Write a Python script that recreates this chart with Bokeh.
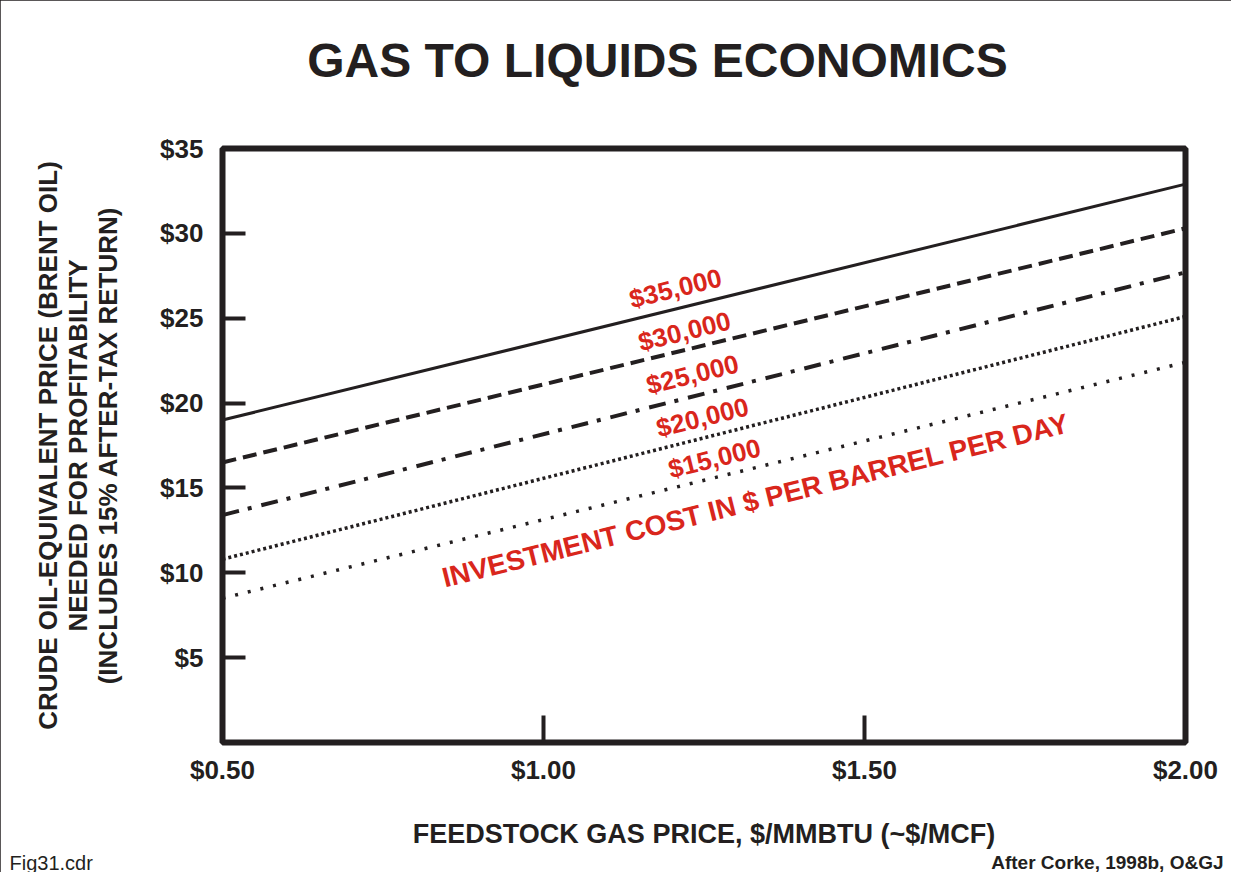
from bokeh.plotting import figure
from bokeh.models import Range1d, FixedTicker, Label
from bokeh.embed import file_html
from bokeh.resources import INLINE

# ---------------- data ----------------
gas_price = [0.5, 2.0]
cost_35000 = [19.0, 32.9]
cost_30000 = [16.5, 30.3]
cost_25000 = [13.4, 27.7]
cost_20000 = [10.8, 25.1]
cost_15000 = [8.5, 22.4]
series_labels = ["$35,000", "$30,000", "$25,000", "$20,000", "$15,000"]

x_ticks = [0.5, 1.0, 1.5, 2.0]
x_tick_labels = ["$0.50", "$1.00", "$1.50", "$2.00"]
y_ticks = [5, 10, 15, 20, 25, 30, 35]
y_tick_labels = ["$5", "$10", "$15", "$20", "$25", "$30", "$35"]

title_text = "GAS TO LIQUIDS ECONOMICS"
x_title = "FEEDSTOCK GAS PRICE, $/MMBTU (~$/MCF)"
y_title_lines = ["CRUDE OIL-EQUIVALENT PRICE (BRENT OIL)",
                 "NEEDED FOR PROFITABILITY",
                 "(INCLUDES 15% AFTER-TAX RETURN)"]
note_text = "INVESTMENT COST IN $ PER BARREL PER DAY"
file_text = "Fig31.cdr"
source_text = "After Corke, 1998b, O&GJ"

# ---------------- layout (canvas pixels) ----------------
W, H = 1231, 872
cl, cr, ct, cb = 222, 1185, 148, 742   # plot frame edges on the canvas

X0, X1 = 0.5, 2.0
Y0, Y1 = 0, 35


def dx(px):
    return X0 + (px - cl) / (cr - cl) * (X1 - X0)


def dy(py):
    return Y0 + (cb - py) / (cb - ct) * (Y1 - Y0)


BLACK = "#231f20"
RED = "#d9261c"
FONT = "Liberation Sans"

p = figure(width=W, height=H, output_backend="svg", toolbar_location=None,
           x_range=Range1d(X0, X1), y_range=Range1d(Y0, Y1),
           min_border_left=cl, min_border_right=W - cr,
           min_border_top=ct, min_border_bottom=H - cb,
           styles={"outline": f"3px solid {BLACK}", "outline-offset": "-3px"})
p.background_fill_color = "white"
p.border_fill_color = "white"
p.grid.visible = False
p.outline_line_color = BLACK
p.outline_line_width = 6
p.outline_line_alpha = 1
p.title.visible = False

# axes
p.xaxis.ticker = FixedTicker(ticks=x_ticks)
p.xaxis.major_label_overrides = {t: l for t, l in zip(x_ticks, x_tick_labels)}
p.yaxis.ticker = FixedTicker(ticks=y_ticks)
p.yaxis.major_label_overrides = {t: l for t, l in zip(y_ticks, y_tick_labels)}
for ax, tin in ((p.xaxis, 27), (p.yaxis, 23)):
    ax.axis_line_color = None
    ax.major_tick_in = tin
    ax.major_tick_out = 0
    ax.minor_tick_line_color = None
    ax.major_tick_line_width = 4
    ax.major_tick_line_color = BLACK
    ax.major_label_text_font = FONT
    ax.major_label_text_font_style = "bold"
    ax.major_label_text_font_size = "26px"
    ax.major_label_text_color = BLACK
    ax.axis_label_text_font = FONT
    ax.axis_label_text_font_style = "bold"
    ax.axis_label_text_color = BLACK
p.xaxis.major_label_standoff = 12
p.yaxis.major_label_standoff = 19
p.xaxis.axis_label = x_title
p.xaxis.axis_label_text_font_size = "27px"
p.xaxis.axis_label_standoff = 31
p.yaxis.axis_label = "\n".join(y_title_lines)
p.yaxis.axis_label_text_font_size = "26px"
p.yaxis.axis_label_standoff = 34
p.yaxis.axis_label_text_line_height = 1.0

# lines
p.line(gas_price, cost_35000, line_color=BLACK, line_width=3)
p.line(gas_price, cost_30000, line_color=BLACK, line_width=4, line_dash="14 7")
p.line(gas_price, cost_25000, line_color=BLACK, line_width=4, line_dash="17 9 4 10")
p.line(gas_price, cost_20000, line_color=BLACK, line_width=3.5, line_dash="3 3")
p.line(gas_price, cost_15000, line_color=BLACK, line_width=3.5, line_dash="3 10")

ANG = 0.244
label_pos = [(675, 288), (684, 331), (692, 374), (702, 417), (714, 458)]
for txt, (px, py) in zip(series_labels, label_pos):
    p.add_layout(Label(x=dx(px), y=dy(py), text=txt, angle=ANG,
                       text_align="center", text_baseline="middle",
                       text_font=FONT, text_font_style="bold",
                       text_font_size="26px", text_color=RED))
p.add_layout(Label(x=dx(755), y=dy(500), text=note_text, angle=ANG,
                   text_align="center", text_baseline="middle",
                   text_font=FONT, text_font_style="bold",
                   text_font_size="28px", text_color=RED))

# texts outside the frame live in the top side panel (not clipped to the frame)
p.add_layout(Label(x=dx(657), y=dy(59.5), text=title_text,
                   text_align="center", text_baseline="middle",
                   text_font=FONT, text_font_style="bold",
                   text_font_size="48px", text_color=BLACK), "above")
p.add_layout(Label(x=dx(9), y=dy(862), text=file_text,
                   text_align="left", text_baseline="alphabetic",
                   text_font=FONT, text_font_size="20px", text_color=BLACK), "above")
p.add_layout(Label(x=dx(1223), y=dy(862), text=source_text,
                   text_align="right", text_baseline="alphabetic",
                   text_font=FONT, text_font_style="bold",
                   text_font_size="19px", text_color=BLACK), "above")

open("out.html", "w").write(file_html(p, INLINE))
